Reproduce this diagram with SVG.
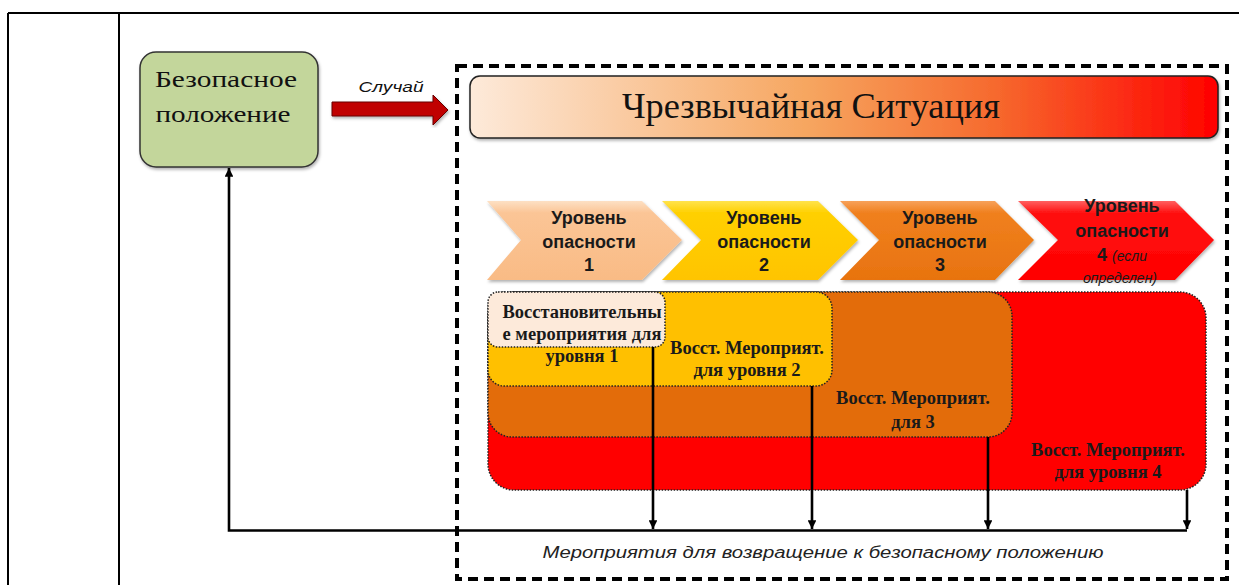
<svg xmlns="http://www.w3.org/2000/svg" width="1239" height="585" viewBox="0 0 1239 585">
<defs>
<linearGradient id="gTitle" x1="0" y1="0" x2="1" y2="0">
<stop offset="0" stop-color="#fdeada"/>
<stop offset="0.45" stop-color="#f6a660"/>
<stop offset="0.7" stop-color="#f66a2e"/>
<stop offset="1" stop-color="#ff0000"/>
</linearGradient>
<linearGradient id="gC1" x1="0" y1="0" x2="0" y2="1"><stop offset="0" stop-color="#fde0c4"/><stop offset="0.15" stop-color="#fbc596"/><stop offset="1" stop-color="#f9bb85"/></linearGradient>
<linearGradient id="gC2" x1="0" y1="0" x2="0" y2="1"><stop offset="0" stop-color="#ffe34d"/><stop offset="0.15" stop-color="#ffd000"/><stop offset="1" stop-color="#ffc400"/></linearGradient>
<linearGradient id="gC3" x1="0" y1="0" x2="0" y2="1"><stop offset="0" stop-color="#f7a15a"/><stop offset="0.15" stop-color="#f0801e"/><stop offset="1" stop-color="#e8730f"/></linearGradient>
<linearGradient id="gC4" x1="0" y1="0" x2="0" y2="1"><stop offset="0" stop-color="#ff6060"/><stop offset="0.15" stop-color="#ff1010"/><stop offset="1" stop-color="#ff0000"/></linearGradient>
<marker id="ah" viewBox="0 0 10 10" refX="10" refY="5" markerWidth="3.4" markerHeight="3.4" orient="auto" markerUnits="strokeWidth">
<path d="M0,0 L10,5 L0,10 z" fill="#000"/>
</marker>
<filter id="sh" x="-5%" y="-5%" width="110%" height="115%">
<feDropShadow dx="1" dy="2" stdDeviation="1.5" flood-color="#000" flood-opacity="0.3"/>
</filter>
</defs>
<style>
.tbl{stroke:#000;stroke-width:2;fill:none}
.chev{stroke:none;filter:url(#sh)}
.ct{font-family:"Liberation Sans",Arial,sans-serif;font-weight:bold;font-size:18px;fill:#1a1a1a;text-anchor:middle}
.cti{font-family:"Liberation Sans",Arial,sans-serif;font-style:italic;font-weight:normal;font-size:14px}
.bx{stroke:#222;stroke-width:1.5;stroke-dasharray:1.5 1.5}
.bt{font-family:"Liberation Serif","Times New Roman",serif;font-weight:bold;font-size:18.5px;fill:#1a1a1a;text-anchor:middle}
.conn{stroke:#000;stroke-width:2.6;fill:none}
</style>

<g id="table">
<line class="tbl" x1="8" y1="13" x2="1239" y2="13"/>
<line class="tbl" x1="8" y1="13" x2="8" y2="585"/>
<line class="tbl" x1="119" y1="13" x2="119" y2="585"/>
</g>

<g id="frame">
<rect x="457" y="66" width="770" height="513" fill="none" stroke="#000" stroke-width="4" stroke-dasharray="10 6"/>
</g>

<g id="safe">
<rect x="140" y="52" width="178" height="115" rx="16" fill="#c3d69b" stroke="#333" stroke-width="1.5" filter="url(#sh)"/>
<text x="226" y="87" font-family="Liberation Serif,'Times New Roman',serif" font-size="24" fill="#111" text-anchor="middle" textLength="142" lengthAdjust="spacingAndGlyphs">Безопасное</text>
<text x="223" y="122" font-family="Liberation Serif,'Times New Roman',serif" font-size="24" fill="#111" text-anchor="middle" textLength="135" lengthAdjust="spacingAndGlyphs">положение</text>
</g>

<g id="event">
<path d="M332,102 L433,102 L433,95 L448,110 L433,125 L433,116 L332,116 z" fill="#c00000" stroke="#600" stroke-width="1" filter="url(#sh)"/>
<text x="391" y="92" font-family="Liberation Sans,Arial,sans-serif" font-style="italic" font-size="15" fill="#111" text-anchor="middle" textLength="65" lengthAdjust="spacingAndGlyphs">Случай</text>
</g>

<g id="title">
<rect x="470" y="76" width="748" height="62" rx="10" fill="url(#gTitle)" stroke="#222" stroke-width="1.5" filter="url(#sh)"/>
<text x="811" y="118" font-family="Liberation Serif,'Times New Roman',serif" font-size="36" fill="#111" text-anchor="middle" textLength="378" lengthAdjust="spacingAndGlyphs">Чрезвычайная Ситуация</text>
</g>

<g id="level1">
<polygon class="chev" points="487,201 642,201 682,240 642,280 487,280 521,240" fill="url(#gC1)"/>
<text class="ct" x="589" y="224">Уровень</text>
<text class="ct" x="589" y="248">опасности</text>
<text class="ct" x="589" y="271">1</text>
</g>
<g id="level2">
<polygon class="chev" points="662,201 818,201 858,240 818,280 662,280 701,240" fill="url(#gC2)"/>
<text class="ct" x="764" y="224">Уровень</text>
<text class="ct" x="764" y="248">опасности</text>
<text class="ct" x="764" y="271">2</text>
</g>
<g id="level3">
<polygon class="chev" points="840,201 995,201 1034,240 995,280 840,280 879,240" fill="url(#gC3)"/>
<text class="ct" x="940" y="224">Уровень</text>
<text class="ct" x="940" y="248">опасности</text>
<text class="ct" x="940" y="271">3</text>
</g>
<g id="level4">
<polygon class="chev" points="1018,201 1175,201 1214,240 1175,280 1018,280 1058,240" fill="url(#gC4)"/>
<text class="ct" x="1122" y="212">Уровень</text>
<text class="ct" x="1122" y="237">опасности</text>
<text class="ct" x="1122" y="261">4 <tspan class="cti">(если</tspan></text>
<text class="ct" x="1120" y="283"><tspan class="cti">определен)</tspan></text>
</g>

<g id="rec4">
<rect class="bx" x="488" y="292" width="718" height="198" rx="26" fill="#ff0000"/>
<text class="bt" x="1108" y="456">Восст. Мероприят.</text>
<text class="bt" x="1108" y="478">для уровня 4</text>
</g>
<g id="rec3">
<rect class="bx" x="488" y="292" width="524" height="145" rx="24" fill="#e36c0a"/>
<text class="bt" x="913" y="404">Восст. Мероприят.</text>
<text class="bt" x="913" y="428">для  3</text>
</g>
<g id="rec2">
<rect class="bx" x="488" y="292" width="344" height="94" rx="16" fill="#ffc000"/>
<text class="bt" x="747" y="354">Восст. Мероприят.</text>
<text class="bt" x="747" y="376">для уровня 2</text>
<text class="bt" x="582" y="362">уровня  1</text>
</g>
<g id="rec1">
<rect class="bx" x="488" y="292" width="177" height="55" rx="10" fill="#fdeada"/>
<text class="bt" x="582" y="318">Восстановительны</text>
<text class="bt" x="582" y="340">е мероприятия для</text>
</g>

<g id="connectors">
<line class="conn" x1="653" y1="347" x2="653" y2="529" marker-end="url(#ah)"/>
<line class="conn" x1="812" y1="386" x2="812" y2="529" marker-end="url(#ah)"/>
<line class="conn" x1="988" y1="437" x2="988" y2="529" marker-end="url(#ah)"/>
<line class="conn" x1="1187" y1="490" x2="1187" y2="529" marker-end="url(#ah)"/>
<polyline class="conn" points="1187,530.5 229,530.5 229,168" marker-end="url(#ah)"/>
</g>

<g id="returnLabel">
<text x="823" y="558" font-family="Liberation Sans,Arial,sans-serif" font-style="italic" font-size="16" fill="#222" text-anchor="middle" textLength="561" lengthAdjust="spacingAndGlyphs">Мероприятия для возвращение к безопасному положению</text>
</g>
</svg>
